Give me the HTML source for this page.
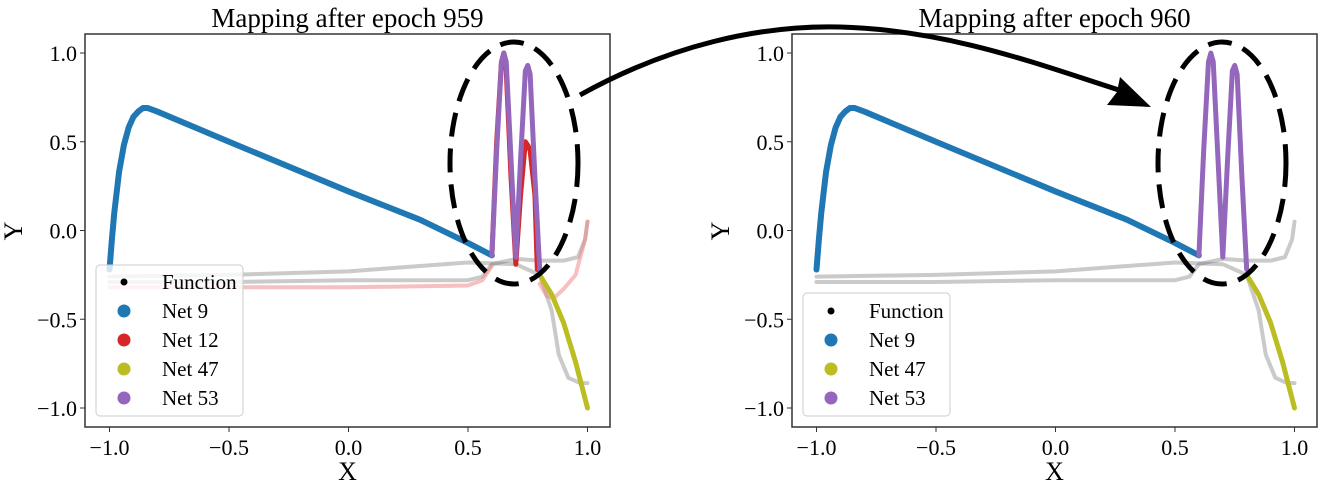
<!DOCTYPE html>
<html><head><meta charset="utf-8">
<style>
body{margin:0;background:#fff;}
svg{display:block;font-family:"Liberation Serif","DejaVu Serif",serif;}
</style></head>
<body>
<svg id="fig" width="1325" height="484" viewBox="0 0 1325 484">
</svg>
<script>
const xTicks=[-1.0,-0.5,0.0,0.5,1.0];
const yTicks=[-1.0,-0.5,0.0,0.5,1.0];
const net9X=[-1,-0.99,-0.98,-0.96,-0.94,-0.92,-0.9,-0.88,-0.86,-0.84,-0.82,-0.8,-0.5,0,0.3,0.5,0.6];
const net9Y=[-0.22,-0.05,0.1,0.33,0.48,0.58,0.64,0.67,0.69,0.69,0.68,0.67,0.5,0.22,0.06,-0.07,-0.14];
const net47X=[0.8,0.85,0.9,0.95,1.0];
const net47Y=[-0.25,-0.36,-0.52,-0.74,-1.0];
const net53X=[0.6,0.62,0.64,0.65,0.66,0.68,0.7,0.72,0.74,0.75,0.76,0.78,0.8];
const net53Y=[-0.14,0.45,0.95,1.0,0.95,0.4,-0.15,0.4,0.9,0.93,0.88,0.3,-0.22];
const net12X=[0.6,0.62,0.64,0.65,0.66,0.68,0.7,0.72,0.74,0.75,0.76,0.78,0.79];
const net12Y=[-0.14,0.5,0.95,1.0,0.9,0.3,-0.19,0.2,0.5,0.48,0.45,0.2,-0.22];
const funcAX=[-1,-0.5,0,0.3,0.5,0.7,0.8,0.85,0.88,0.92,0.97,1.0];
const funcAY=[-0.26,-0.25,-0.23,-0.2,-0.18,-0.19,-0.25,-0.45,-0.7,-0.83,-0.86,-0.86];
const funcBX=[-1,-0.5,0,0.5,0.56,0.6,0.7,0.8,0.9,0.96,0.99,1.0];
const funcBY=[-0.29,-0.29,-0.28,-0.28,-0.26,-0.19,-0.16,-0.17,-0.17,-0.15,-0.05,0.05];
const pinkAX=[-1,-0.5,0,0.5,0.56,0.6];
const pinkAY=[-0.32,-0.32,-0.32,-0.31,-0.28,-0.2];
const pinkBX=[0.8,0.83,0.86,0.9,0.95,0.99,1.0];
const pinkBY=[-0.3,-0.37,-0.38,-0.33,-0.25,-0.05,0.05];

const NS="http://www.w3.org/2000/svg";
const svg=document.getElementById('fig');
function mk(tag,attrs,parent){const e=document.createElementNS(NS,tag);for(const k in attrs)e.setAttribute(k,attrs[k]);(parent||svg).appendChild(e);return e;}

function panel(left,title,showRed,legendTop,id){
  const right=left+525, top=34, bottom=427;
  const sx=v=>left+24.5+(v+1)*239;
  const sy=v=>230.5-v*177.5;
  const g=mk('g',{});
  
  
  const t=mk('text',{x:(left+right)/2,y:27,'text-anchor':'middle','font-size':27},g);
  t.textContent=title;
  
  
  function line(xs,ys,color,w,op,name){
    const p=mk('polyline',{points:xs.map((x,i)=>sx(x)+','+sy(ys[i])).join(' '),fill:'none',stroke:color,'stroke-width':w,'stroke-opacity':op,'stroke-linejoin':'round','stroke-linecap':'round'},g);
    
    
  }
  line(funcAX,funcAY,'#666',4,0.35,'function-curve-a');
  line(funcBX,funcBY,'#666',4,0.35,'function-curve-b');
  if(showRed){line(pinkAX,pinkAY,'#f08080',4,0.5,'net12-faded-a');line(pinkBX,pinkBY,'#f08080',4,0.5,'net12-faded-b');}
  line(net9X,net9Y,'#1f77b4',6,1,'net9-series');
  line(net47X,net47Y,'#bcbd22',5,1,'net47-series');
  if(showRed) line(net12X,net12Y,'#d62728',5,1,'net12-series');
  line(net53X,net53Y,'#9467bd',5,1,'net53-series');
  const f=mk('rect',{x:left,y:top,width:525,height:bottom-top,fill:'none',stroke:'#333','stroke-width':1.5},g);
  
  
  xTicks.forEach(v=>{
    mk('line',{x1:sx(v),x2:sx(v),y1:bottom,y2:bottom+5,stroke:'#333'},g);
    const tx=mk('text',{x:sx(v),y:bottom+28,'text-anchor':'middle','font-size':22},g);
    tx.textContent=v.toFixed(1).replace('-','\u2212');
    
    
  });
  yTicks.forEach(v=>{
    mk('line',{x1:left-5,x2:left,y1:sy(v),y2:sy(v),stroke:'#333'},g);
    const ty=mk('text',{x:left-8,y:sy(v)+8,'text-anchor':'end','font-size':22},g);
    ty.textContent=v.toFixed(1).replace('-','\u2212');
    
    
  });
  const xl=mk('text',{x:(left+right)/2,y:480,'text-anchor':'middle','font-size':26},g);
  xl.textContent='X';
  
  
  const yl=mk('text',{x:0,y:0,'text-anchor':'middle','font-size':26,transform:`translate(${left-63},231) rotate(-90)`},g);
  yl.textContent='Y';
  
  
  const entries=[['Function','#000',3.5]].concat([['Net 9','#1f77b4',6.5]]).concat(showRed?[['Net 12','#d62728',6.5]]:[]).concat([['Net 47','#bcbd22',6.5],['Net 53','#9467bd',6.5]]);
  const lg=mk('g',{},g);
  
  
  const lh=416-legendTop;
  mk('rect',{x:left+11,y:legendTop,width:147,height:lh,rx:4,fill:'#fff','fill-opacity':0.8,stroke:'#ccc'},lg);
  entries.forEach((e,i)=>{
    const cy=416-18-(entries.length-1-i)*29;
    mk('circle',{cx:left+39,cy:cy,r:e[2],fill:e[1]},lg);
    const lt=mk('text',{x:left+77,y:cy+7,'font-size':21},lg);
    lt.textContent=e[0];
    
    
  });
}
panel(85,'Mapping after epoch 959',true,265,'left-panel');
panel(792,'Mapping after epoch 960',false,293,'right-panel');

[[514,'highlight-ellipse-left'],[1222,'highlight-ellipse-right']].forEach(([cx,n])=>{
  const el=mk('ellipse',{cx:cx,cy:163,rx:64,ry:121,fill:'none',stroke:'#000','stroke-width':5,'stroke-dasharray':'24 12'});
  
  
});
const ar=mk('path',{d:'M580,95 C670,45 760,25 840,27 C950,30 1040,65 1125,92',fill:'none',stroke:'#000','stroke-width':5});


const ahd=mk('polygon',{points:'1151,107 1120,77 1117,92 1107,105',fill:'#000'});


</script>
</body></html>
